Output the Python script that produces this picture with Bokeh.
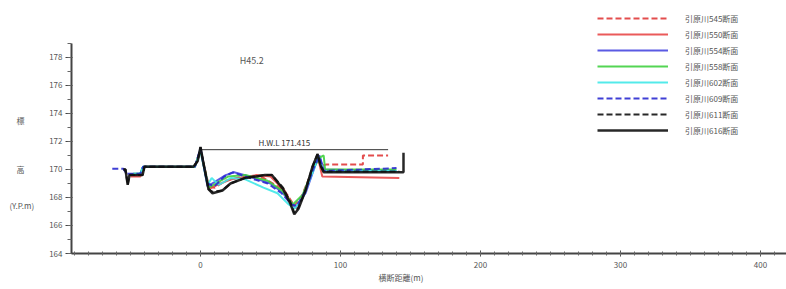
from bokeh.plotting import figure
from bokeh.models import Range1d, SingleIntervalTicker, Legend, LegendItem, Label
from bokeh.embed import file_html
from bokeh.resources import INLINE

# ---- data ----
names = ["引原川545断面", "引原川550断面", "引原川554断面", "引原川558断面",
         "引原川602断面", "引原川609断面", "引原川611断面", "引原川616断面"]
colors = ["#e03a3a", "#e84848", "#4848e0", "#40d040", "#40e8e8", "#2a2ad0", "#111111", "#111111"]
dashes = ["6 3", "solid", "solid", "solid", "solid", "6 3", "6 3", "solid"]

x545 = [-50, -43, -41, -4, 0, 6, 10, 18, 30, 45, 55, 62, 67, 72, 78, 84, 87, 90, 116, 116, 134]
y545 = [169.6, 169.6, 170.2, 170.2, 171.4, 168.8, 168.7, 169.2, 169.5, 169.4, 168.8, 168.2, 167.4, 168.0, 169.5, 170.8, 170.3, 170.35, 170.35, 171.0, 171.0]

x550 = [-50, -43, -40, -4, 0, 6, 12, 22, 40, 50, 60, 67, 73, 80, 84, 87, 142]
y550 = [169.5, 169.5, 170.2, 170.2, 171.3, 168.6, 168.9, 169.3, 169.6, 169.5, 168.5, 167.2, 168.0, 170.0, 170.8, 169.5, 169.4]

x554 = [-48, -43, -41, -4, 0, 5, 10, 18, 24, 35, 50, 58, 64, 68, 75, 82, 85, 88, 140]
y554 = [169.7, 169.7, 170.2, 170.2, 171.5, 168.8, 169.1, 169.6, 169.8, 169.5, 169.0, 168.4, 167.7, 167.3, 168.3, 170.3, 171.0, 170.0, 169.9]

x558 = [-48, -43, -41, -4, 0, 6, 11, 20, 32, 48, 58, 66, 73, 81, 86, 88, 89, 140]
y558 = [169.7, 169.7, 170.2, 170.2, 171.4, 168.7, 169.0, 169.5, 169.6, 169.2, 168.5, 167.5, 168.2, 170.2, 170.9, 171.0, 170.0, 170.0]

x602 = [-48, -43, -41, -4, 0, 5, 8, 13, 22, 32, 45, 55, 62, 67, 73, 81, 84, 88, 140]
y602 = [169.7, 169.7, 170.2, 170.2, 171.3, 168.9, 169.4, 168.9, 169.4, 169.3, 168.7, 168.3, 167.6, 167.2, 168.0, 170.0, 170.9, 169.9, 169.9]

x609 = [-63, -55, -53, -43, -41, -4, 0, 5, 10, 17, 23, 35, 48, 58, 65, 69, 75, 82, 85, 88, 115, 140]
y609 = [170.05, 170.05, 169.7, 169.7, 170.2, 170.2, 171.5, 169.0, 168.8, 169.5, 169.8, 169.4, 169.0, 168.3, 167.5, 167.4, 168.5, 170.4, 170.9, 169.9, 170.0, 170.1]

x611 = [-55, -53.6, -52, -50.7, -41.4, -40, -5, -2, 0, 2, 5.7, 8.6, 15.7, 21.4, 32, 46, 51, 59, 64, 67, 70, 75, 80, 83.6, 85.7, 88, 142]
y611 = [170.0, 170.0, 168.9, 169.6, 169.6, 170.2, 170.2, 170.6, 171.6, 170.5, 168.6, 168.4, 168.5, 169.0, 169.4, 169.6, 169.6, 168.7, 167.7, 166.9, 167.3, 168.5, 170.2, 171.1, 170.3, 169.85, 169.85]

x616 = [-55, -53.6, -52, -50.7, -41.4, -40, -5, -2, 0, 2, 5.7, 8.6, 15.7, 21.4, 32, 46, 51, 59, 64, 67, 70, 75, 80, 83.6, 85.7, 88, 143, 145, 145]
y616 = [170.0, 170.0, 168.9, 169.6, 169.6, 170.2, 170.2, 170.6, 171.6, 170.5, 168.6, 168.3, 168.5, 169.0, 169.4, 169.6, 169.6, 168.6, 167.6, 166.8, 167.2, 168.5, 170.2, 171.1, 170.3, 169.8, 169.8, 169.8, 171.2]

series_x = [x545, x550, x554, x558, x602, x609, x611, x616]
series_y = [y545, y550, y554, y558, y602, y609, y611, y616]

hwl_value = 171.415
hwl_x = [0, 134]
title_text = "H45.2"
hwl_text = "H.W.L 171.415"
x_title = "横断距離(m)" + "\u3000" * 7
y_title = "\n".join([" "] * 7 + ["標\u3000 ", " ", " ", " ", "高\u3000 ", " ", " ", "(Y.P.m)", " "])

FONT = "Noto Sans CJK JP"
TXT = "#555555"

X0, X1 = -92.14, 418.57
p = figure(width=786, height=289, output_backend="svg", toolbar_location=None,
           x_range=Range1d(X0, X1), y_range=Range1d(164, 182.07),
           min_border_left=71, min_border_right=0, min_border_top=0, min_border_bottom=36)
p.outline_line_color = None
p.grid.visible = False
p.background_fill_color = "white"

for ax, bounds, interval, nminor in [(p.xaxis[0], (X0, X1), 100, 10), (p.yaxis[0], (164, 179), 2, 2)]:
    ax.ticker = SingleIntervalTicker(interval=interval, num_minor_ticks=nminor)
    ax.bounds = bounds
    ax.axis_line_color = "#444444"
    ax.axis_line_width = 2
    ax.major_tick_line_color = "#444444"
    ax.minor_tick_line_color = "#666666"
    ax.major_label_text_font = FONT
    ax.major_label_text_font_size = "8px"
    ax.major_label_text_color = TXT
    ax.axis_label_text_font = FONT
    ax.axis_label_text_font_size = "8px"
    ax.axis_label_text_font_style = "normal"
    ax.axis_label_text_color = TXT

p.xaxis.major_tick_in = 3
p.xaxis.major_tick_out = 3
p.xaxis.minor_tick_in = 2
p.xaxis.minor_tick_out = 2
p.xaxis.major_label_standoff = 5
p.xaxis.axis_label = x_title
p.xaxis.axis_label_standoff = 1

p.yaxis.major_tick_in = 1
p.yaxis.major_tick_out = 6
p.yaxis.minor_tick_in = 0
p.yaxis.minor_tick_out = 4
p.yaxis.major_label_standoff = 3
p.yaxis.axis_label = y_title
p.yaxis.axis_label_orientation = "horizontal"
p.yaxis.axis_label_standoff = 12
p.yaxis.axis_label_text_line_height = 1.1

# H.W.L line
p.line(hwl_x, [hwl_value, hwl_value], line_color="#333333", line_width=1)

items = []
for name, xs, ys, c, d in zip(names, series_x, series_y, colors, dashes):
    lw = 2.5 if name.endswith("616断面") else 2
    r = p.line(xs, ys, line_color=c, line_dash=d, line_width=lw, line_alpha=0.9)
    items.append(LegendItem(label=name, renderers=[r]))

legend = Legend(items=items, location=(526, 116), glyph_width=71, glyph_height=14,
                label_height=14, spacing=2, padding=0, margin=0, label_standoff=17,
                label_text_font=FONT, label_text_font_size="8px", label_text_color=TXT,
                border_line_color=None, background_fill_alpha=0)
p.add_layout(legend)

p.add_layout(Label(x=28, y=177.8, text=title_text, text_font=FONT, text_font_size="9px",
                   text_color=TXT, text_baseline="middle", text_align="left"))
p.add_layout(Label(x=41.4, y=hwl_value + 0.1, text=hwl_text, text_font=FONT, text_font_size="8px",
                   text_color="#333333", text_baseline="bottom", text_align="left"))

open("out.html", "w").write(file_html(p, INLINE))
